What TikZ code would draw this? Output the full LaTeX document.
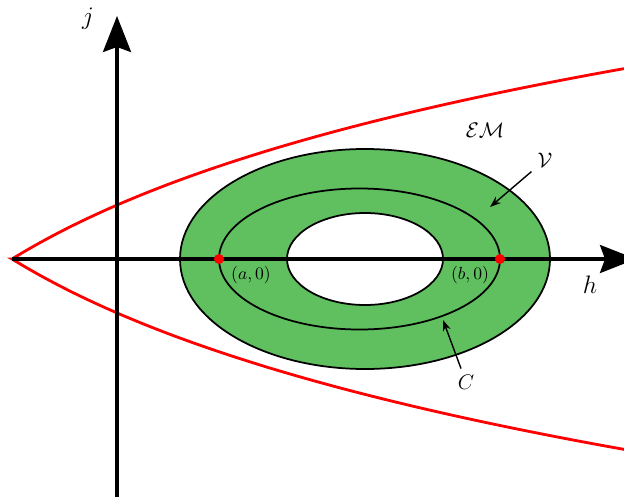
\documentclass[tikz,border=0pt]{standalone}
\usepackage{amsmath}
\usetikzlibrary{arrows.meta}
\definecolor{ringgreen}{RGB}{96,192,96}
\begin{document}
\begin{tikzpicture}[x=0.02cm, y=0.02cm, every node/.style={font=\large},
    axis/.style={line width=1.8pt, -{Stealth[length=0.72cm, width=0.56cm, inset=0.1cm]}},
    rim/.style={line width=1pt},
    pointer/.style={thick, -{Stealth[length=2.2mm, width=1.6mm]}},
    dot/.style={circle, fill=red, inner sep=0pt, minimum size=0.2cm},
    pointlabel/.style={font=\normalsize}]
    \useasboundingbox (-117,-238) rectangle (507,259);
    \fill[ringgreen, even odd rule] (248,0) ellipse [x radius=185, y radius=110]
        (248,0) ellipse [x radius=78, y radius=46];
    \draw[rim] (248,0) ellipse [x radius=185, y radius=110];
    \draw[rim] (242.5,0) ellipse [x radius=140.5, y radius=70.5];
    \draw[rim] (248,0) ellipse [x radius=78, y radius=46];
    \draw[red, line width=1.6pt, line join=miter]
        plot[domain=612:0, samples=120] ({\x-105},{153.8*ln(1+\x/250)})
        -- plot[domain=0:612, samples=120] ({\x-105},{-153.8*ln(1+\x/250)});
    \coordinate (vertex) at (-105,0);
    \coordinate (hend) at (519,0);
    \coordinate (jbot) at (0,-238);
    \coordinate (jtop) at (0,243);
    \draw[axis] (vertex) -- (hend);
    \draw[axis] (jbot) -- (jtop);
    \node[font=\Large] (j) at (-29,240) {$j$};
    \node[font=\Large] (h) at (473,-26) {$h$};
    \node[dot] (a) at (102,0) {};
    \node[dot] (b) at (383,0) {};
    \node[pointlabel] (alab) at (134,-16) {$(a,0)$};
    \node[pointlabel] (blab) at (353,-16) {$(b,0)$};
    \node (EM) at (368,129) {$\mathcal{EM}$};
    \node (V) at (428,99) {$\mathcal{V}$};
    \node (C) at (349,-123) {$C$};
    \coordinate (vtip) at (373,52);
    \coordinate (ctip) at (326,-61);
    \draw[pointer] (V) -- (vtip);
    \draw[pointer] (C) -- (ctip);
\end{tikzpicture}
\end{document}
